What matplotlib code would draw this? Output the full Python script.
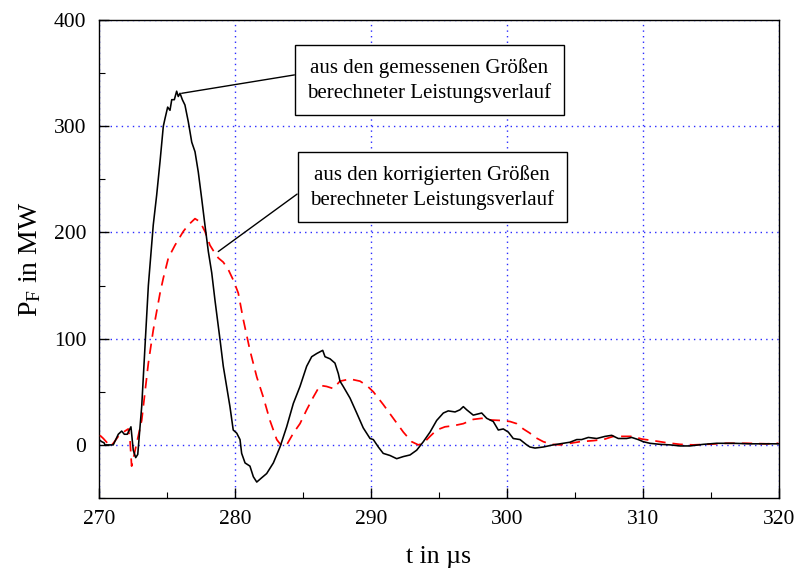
import matplotlib
matplotlib.use("Agg")
import matplotlib.pyplot as plt
from matplotlib.ticker import MultipleLocator

plt.rcParams["font.family"] = ["Liberation Serif", "DejaVu Serif"]
plt.rcParams["mathtext.fontset"] = "custom"
plt.rcParams["mathtext.rm"] = "Liberation Serif"
plt.rcParams["mathtext.it"] = "Liberation Serif:italic"

# power computed from the measured quantities (time in us, power in MW)
t_mess = [270.0, 270.2, 270.37, 270.44, 271.05, 271.42, 271.67, 271.86, 272.08, 272.35,
          272.52, 272.70, 272.85, 273.14, 273.38, 273.63, 273.99, 274.24, 274.49, 274.73,
          274.85, 275.05, 275.22, 275.35, 275.54, 275.71, 275.83, 275.96, 276.13, 276.32,
          276.57, 276.82, 277.06, 277.30, 277.55, 277.79, 278.04, 278.29, 278.53, 278.90,
          279.14, 279.63, 279.87, 280.13, 280.37, 280.49, 280.74, 281.10, 281.35, 281.60,
          281.96, 282.33, 282.82, 283.31, 283.80, 284.29, 284.78, 285.27, 285.64, 286.01,
          286.45, 286.62, 286.99, 287.35, 287.60, 287.72, 287.96, 288.46, 288.95, 289.43,
          289.93, 290.17, 290.54, 290.90, 291.40, 291.89, 292.38, 292.87, 293.36, 293.85,
          294.34, 294.83, 295.32, 295.68, 296.18, 296.54, 296.79, 297.04, 297.52, 298.14,
          298.51, 298.99, 299.36, 299.73, 300.10, 300.46, 300.96, 301.45, 301.69, 302.06,
          302.67, 303.40, 304.14, 304.63, 305.13, 305.49, 305.98, 306.60, 307.21, 307.70,
          308.18, 308.80, 309.17, 309.65, 310.02, 310.51, 311.25, 311.99, 312.72, 313.46,
          314.43, 315.42, 316.64, 317.87, 319.10, 320.0]
p_mess = [5, 3, 2, 0, 0, 10, 13, 10, 10, 17,
          -5, -12, -9, 36, 92, 150, 207, 235, 267, 300,
          307, 318, 315, 325, 325, 333, 328, 331, 325, 320,
          304, 285, 276, 257, 232, 207, 182, 162, 136, 99,
          74, 36, 14, 11, 5, -8, -17, -20, -30, -35,
          -31, -27, -17, -2, 17, 39, 55, 74, 83, 86,
          89, 83, 81, 77, 67, 60, 55, 44, 30, 16,
          6, 5, -2, -8, -10, -13, -11, -9.5, -5, 3,
          12, 23, 30, 32, 31, 33, 36, 33, 28, 30,
          25, 22, 14, 15, 12, 6, 5, 0, -2, -3,
          -2, 0, 1.5, 2.5, 5, 5, 7, 6, 8, 9,
          6, 6, 7, 5, 3, 1.5, 0.5, 0, -1, -1,
          0.5, 1.5, 1.5, 1, 1, 1]

# power computed from the corrected quantities
t_korr = [270.07, 270.32, 270.81, 271.05, 271.42, 271.79, 272.15, 272.28, 272.40, 273.14,
          273.63, 273.99, 274.49, 274.73, 275.10, 275.59, 276.20, 276.57, 277.06, 277.43,
          277.79, 278.16, 278.40, 278.77, 279.14, 279.51, 279.88, 280.24, 280.61, 281.10,
          281.60, 282.08, 282.57, 283.07, 283.43, 283.80, 284.29, 284.78, 285.27, 285.76,
          286.25, 286.74, 287.23, 287.72, 288.46, 289.19, 289.68, 290.17, 290.90, 291.64,
          292.38, 292.99, 293.48, 293.85, 294.34, 294.83, 295.44, 296.05, 296.79, 297.52,
          298.14, 298.75, 299.49, 300.22, 300.71, 301.20, 301.69, 301.93, 302.67, 303.29,
          303.90, 304.63, 305.37, 306.35, 307.08, 307.82, 308.55, 309.29, 309.90, 310.76,
          311.74, 312.72, 313.70, 314.68, 316.15, 317.62, 319.10, 319.95]
p_korr = [9, 6, -1, 1.5, 8, 12, 15, 5, -20, 23,
          77, 108, 143, 157, 176, 188, 201, 207, 213, 210,
          201, 188, 183, 176, 172, 165, 155, 143, 118, 89,
          64, 45, 23, 5, -1, 0, 11, 20, 33, 45,
          56, 55, 53, 60, 62, 60, 56, 50, 38, 25,
          12, 3, 0, 1.5, 8, 14, 17, 18, 20, 24,
          25, 23.5, 23, 22, 20, 15, 11, 8, 3, 0.5,
          0, 1.5, 3, 4, 5, 8, 8, 8, 5.5, 4,
          2, 0.5, 0, 0.5, 1.5, 1.5, 1, 1.5]

text_mess = "aus den gemessenen Größen\nberechneter Leistungsverlauf"
text_korr = "aus den korrigierten Größen\nberechneter Leistungsverlauf"

fig = plt.figure(figsize=(7.97, 5.72), dpi=100)
ax = fig.add_axes([0.1242, 0.1294, 0.8532, 0.8356])

ax.grid(True, which="major", color="#2a2aff", linestyle=(0, (1, 3)), linewidth=1.0)
ax.plot(t_korr, p_korr, color="#ff0000", linewidth=1.25, linestyle=(0, (6, 4)), zorder=3)
ax.plot(t_mess, p_mess, color="black", linewidth=1.15, zorder=4)

ax.set_xlim(270, 320)
ax.set_ylim(-50, 400)
ax.xaxis.set_major_locator(MultipleLocator(10))
ax.xaxis.set_minor_locator(MultipleLocator(5))
ax.yaxis.set_major_locator(MultipleLocator(100))
ax.yaxis.set_minor_locator(MultipleLocator(50))
ax.tick_params(which="both", direction="in", top=False, right=False, labelsize=15.5)
ax.tick_params(which="major", length=7, width=1.0, pad=9)
ax.tick_params(which="minor", length=4, width=0.8)
for sp in ax.spines.values():
    sp.set_linewidth(1.0)

ax.set_xlabel(r"t in µs", fontsize=18.5, labelpad=12)
ax.set_ylabel(r"P$_\mathregular{F}$ in MW", fontsize=20, labelpad=8)

box = dict(boxstyle="square,pad=0.6", facecolor="white", edgecolor="black", linewidth=1.0)
ax.annotate(text_mess, xy=(276.08, 331), xytext=(294.3, 343.1), textcoords="data",
            ha="center", va="center", fontsize=15, linespacing=1.35, bbox=box,
            arrowprops=dict(arrowstyle="-", color="black", lw=1.0, relpos=(0.0, 0.67),
                            shrinkA=0, shrinkB=0), zorder=6)
ax.annotate(text_korr, xy=(278.77, 182), xytext=(294.5, 242.5), textcoords="data",
            ha="center", va="center", fontsize=15, linespacing=1.35, bbox=box,
            arrowprops=dict(arrowstyle="-", color="black", lw=1.0, relpos=(0.0, 0.56),
                            shrinkA=0, shrinkB=0), zorder=6)

fig.savefig("out.png", dpi=100)
